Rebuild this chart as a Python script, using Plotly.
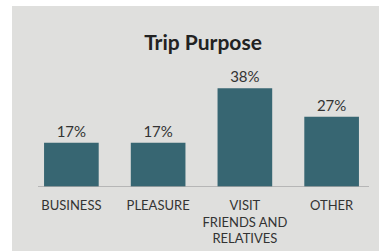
import plotly.graph_objects as go

categories = ["BUSINESS", "PLEASURE", "VISIT<br>FRIENDS AND<br>RELATIVES", "OTHER"]
values = [17, 17, 38, 27]
labels = [f"{v}%" for v in values]

W, H = 379, 252
L, R, T, B = 28, 4, 70, 65
pw = W - L - R
ph = H - T - B

fig = go.Figure(go.Bar(
    x=categories, y=values, text=labels, textposition="outside",
    marker=dict(color="#376672", line=dict(width=0)),
    textfont=dict(family="Lato", size=15, color="#333333"),
    cliponaxis=False, hoverinfo="skip",
))

fig.update_layout(
    width=W, height=H,
    margin=dict(l=L, r=R, t=T, b=B, autoexpand=False),
    paper_bgcolor="white", plot_bgcolor="rgba(0,0,0,0)",
    bargap=0.37,
    showlegend=False,
    title=dict(text="<b>Trip Purpose</b>", x=203 / W, y=1 - 43 / H, xref="container", yref="container",
               xanchor="center", yanchor="middle",
               font=dict(family="Lato", size=21, color="#222222")),
    font=dict(family="Lato"),
    xaxis=dict(showgrid=False, zeroline=False, showline=False, ticks="outside", ticklen=6,
               tickcolor="rgba(0,0,0,0)", automargin=False,
               tickfont=dict(family="Lato", size=13, color="#333333"), range=[-0.5, 3.5]),
    yaxis=dict(visible=False, range=[0, 45], automargin=False),
    shapes=[
        dict(type="rect", xref="paper", yref="paper",
             x0=(12 - L) / pw, x1=(W - L + 5) / pw,
             y0=(H - B - 251) / ph, y1=(H - B - 6) / ph,
             fillcolor="#dfdfdd", line=dict(width=0), layer="below"),
        dict(type="line", xref="paper", yref="y", x0=(38 - L) / pw, x1=(369 - L) / pw,
             y0=0, y1=0, line=dict(color="#a8a8a8", width=1.5), layer="above"),
    ],
)

fig.write_html("out.html", config={"displayModeBar": False},
               post_script="document.body.style.margin='0';document.body.style.overflow='hidden';")
